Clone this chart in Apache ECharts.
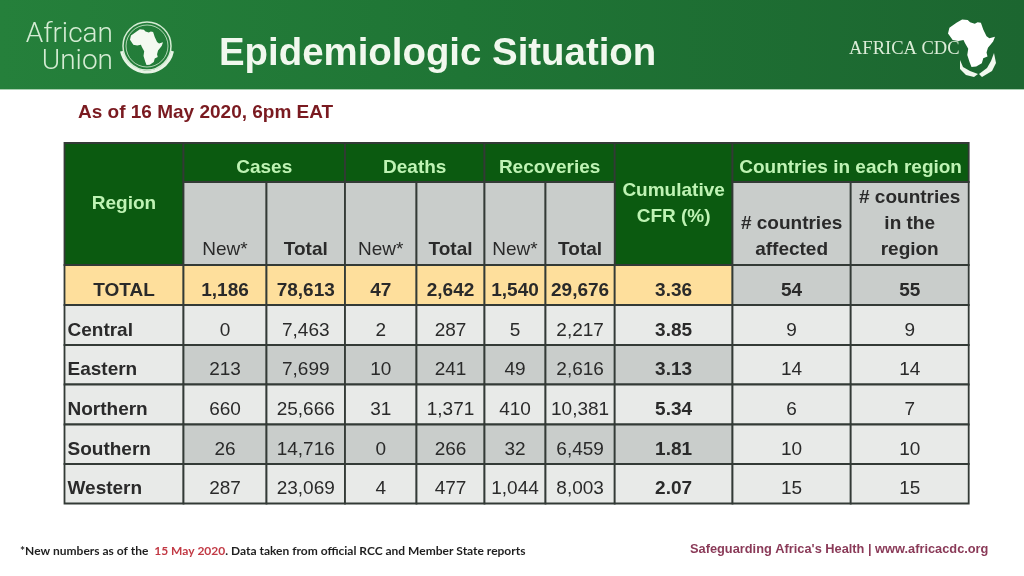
<!DOCTYPE html>
<html>
<head>
<meta charset="utf-8">
<style>html,body{margin:0;padding:0;background:#fff}#chart{width:1024px;height:576px}</style>
<script src="https://cdn.jsdelivr.net/npm/echarts@6/dist/echarts.min.js"></script>
</head>
<body>
<div id="chart"></div>
<script>
// table values
const regions = ['TOTAL', 'Central', 'Eastern', 'Northern', 'Southern', 'Western'];
const casesNew = [1186, 0, 213, 660, 26, 287];
const casesTotal = [78613, 7463, 7699, 25666, 14716, 23069];
const deathsNew = [47, 2, 10, 31, 0, 4];
const deathsTotal = [2642, 287, 241, 1371, 266, 477];
const recoveriesNew = [1540, 5, 49, 410, 32, 1044];
const recoveriesTotal = [29676, 2217, 2616, 10381, 6459, 8003];
const cfr = [3.36, 3.85, 3.13, 5.34, 1.81, 2.07];
const countriesAffected = [54, 9, 14, 6, 10, 15];
const countriesInRegion = [55, 9, 14, 7, 10, 15];

// grid lines, in axis units
const colEdges = [64.5, 183.5, 266.5, 345, 416.5, 484.5, 545.5, 614.7, 732.5, 850.7, 968.7];
const rowEdges = [143, 182, 265, 305, 345, 384.5, 424.5, 464, 503.5];

const FONT = '"Liberation Sans", Arial, sans-serif';
const GREEN = '#0b5a10';
const GREEN_TEXT = '#bff3b4';
const GRAY = '#c9cdcb';
const LIGHT = '#e8eae8';
const YELLOW = '#fedf9c';
const INK = '#2a2a2a';
const fmt = (v) => v.toLocaleString('en-US');

const cells = [];
function addCell(c0, c1, r0, r1, fill, lines, opt = {}) {
  cells.push({ value: [c0, c1, r0, r1], fill, lines, ...opt });
}

// header
addCell(0, 1, 0, 2, GREEN, ['Region'], { color: GREEN_TEXT, bold: true, cy: [204] });
addCell(1, 3, 0, 1, GREEN, ['Cases'], { color: GREEN_TEXT, bold: true, cy: [168] });
addCell(3, 5, 0, 1, GREEN, ['Deaths'], { color: GREEN_TEXT, bold: true, cy: [168] });
addCell(5, 7, 0, 1, GREEN, ['Recoveries'], { color: GREEN_TEXT, bold: true, cy: [168] });
addCell(7, 8, 0, 2, GREEN, ['Cumulative', 'CFR (%)'], { color: GREEN_TEXT, bold: true, cy: [191, 217] });
addCell(8, 10, 0, 1, GREEN, ['Countries in each region'], { color: GREEN_TEXT, bold: true, cy: [168] });
for (let c = 1; c < 7; c++) {
  const isTotal = c % 2 === 0;
  addCell(c, c + 1, 1, 2, GRAY, [isTotal ? 'Total' : 'New*'], { bold: isTotal, cy: [250] });
}
addCell(8, 9, 1, 2, GRAY, ['# countries', 'affected'], { bold: true, cy: [224, 250] });
addCell(9, 10, 1, 2, GRAY, ['# countries', 'in the', 'region'], { bold: true, cy: [198, 224, 250] });

// body
const numberCols = [casesNew, casesTotal, deathsNew, deathsTotal, recoveriesNew, recoveriesTotal];
regions.forEach((name, i) => {
  const r = i + 2;
  const isTotal = i === 0;
  const band = isTotal ? YELLOW : i % 2 === 0 ? GRAY : LIGHT;
  addCell(0, 1, r, r + 1, isTotal ? YELLOW : LIGHT, [name], { bold: true, left: !isTotal });
  numberCols.forEach((col, c) => {
    addCell(c + 1, c + 2, r, r + 1, band, [fmt(col[i])], { bold: isTotal });
  });
  addCell(7, 8, r, r + 1, band, [cfr[i].toFixed(2)], { bold: true });
  addCell(8, 9, r, r + 1, isTotal ? GRAY : LIGHT, [String(countriesAffected[i])], { bold: isTotal });
  addCell(9, 10, r, r + 1, isTotal ? GRAY : LIGHT, [String(countriesInRegion[i])], { bold: isTotal });
});

function renderCell(params, api) {
  const d = cells[params.dataIndex];
  const [c0, c1, r0, r1] = d.value;
  const a = api.coord([colEdges[c0], rowEdges[r0]]);
  const b = api.coord([colEdges[c1], rowEdges[r1]]);
  const children = [{
    type: 'rect',
    shape: { x: a[0], y: a[1], width: b[0] - a[0], height: b[1] - a[1] },
    style: { fill: d.fill, stroke: '#333a36', lineWidth: 1.8 },
  }];
  d.lines.forEach((line, i) => {
    const cy = d.cy ? api.coord([0, d.cy[i]])[1] : (a[1] + b[1]) / 2 + 5.5;
    children.push({
      type: 'text',
      style: {
        x: d.left ? a[0] + 3 : (a[0] + b[0]) / 2,
        y: cy,
        text: line,
        align: d.left ? 'left' : 'center',
        verticalAlign: 'middle',
        fill: d.color || INK,
        fontFamily: FONT,
        fontSize: 19,
        fontWeight: d.bold ? 'bold' : 'normal',
      },
      z2: 5,
    });
  });
  return { type: 'group', children };
}

// rough outline of the continent, 0..1 box
const africaOutline = [
  [0.18, 0.08], [0.30, 0.01], [0.42, 0.02], [0.47, 0.07], [0.57, 0.10], [0.63, 0.07], [0.70, 0.08],
  [0.75, 0.22], [0.82, 0.36], [0.88, 0.40], [1.0, 0.37], [0.96, 0.47], [0.85, 0.60], [0.82, 0.70],
  [0.84, 0.78], [0.75, 0.82], [0.72, 0.92], [0.60, 0.99], [0.50, 1.0], [0.46, 0.90], [0.41, 0.75],
  [0.43, 0.62], [0.36, 0.50], [0.33, 0.44], [0.22, 0.46], [0.10, 0.44], [0.0, 0.30], [0.03, 0.18],
];
const africaAt = (x, y, w, h) => africaOutline.map((p) => [x + p[0] * w, y + p[1] * h]);

const chart = echarts.init(document.getElementById('chart'), null, { renderer: 'canvas' });
chart.setOption({
  animation: false,
  backgroundColor: '#ffffff',
  grid: { left: 0, right: 0, top: 0, bottom: 0 },
  xAxis: { type: 'value', min: 0, max: 1024, show: false },
  yAxis: { type: 'value', min: 0, max: 576, inverse: true, show: false },
  title: [
    {
      text: 'Epidemiologic Situation',
      left: 219,
      top: 35,
      padding: 0,
      textStyle: { fontFamily: FONT, fontWeight: 'bold', fontSize: 38.4, color: '#f1f8ee' },
    },
    {
      text: 'As of 16 May 2020, 6pm EAT',
      left: 78,
      top: 103,
      padding: 0,
      textStyle: { fontFamily: FONT, fontWeight: 'bold', fontSize: 19, color: '#7a1a20' },
    },
  ],
  graphic: [
    {
      type: 'rect',
      z: -1,
      shape: { x: 0, y: 0, width: 1024, height: 89 },
      style: {
        fill: new echarts.graphic.LinearGradient(0, 0, 1, 0, [
          { offset: 0, color: '#25803b' },
          { offset: 0.45, color: '#1f7535' },
          { offset: 1, color: '#1c6630' },
        ]),
      },
    },
    { type: 'rect', z: -1, shape: { x: 0, y: 89, width: 1024, height: 1 }, style: { fill: '#a9cfb0' } },

    // African Union logo
    { type: 'text', style: { x: 113, y: 35, text: 'African', align: 'right', verticalAlign: 'middle', fill: '#d5ecd4', fontFamily: 'Roboto, sans-serif', fontWeight: 300, fontSize: 28 } },
    { type: 'text', style: { x: 113, y: 62, text: 'Union', align: 'right', verticalAlign: 'middle', fill: '#d5ecd4', fontFamily: 'Roboto, sans-serif', fontWeight: 300, fontSize: 28 } },
    { type: 'circle', shape: { cx: 147, cy: 46, r: 24 }, style: { fill: 'none', stroke: '#d5ecd4', lineWidth: 1.5 } },
    { type: 'circle', shape: { cx: 147, cy: 46, r: 21 }, style: { fill: 'none', stroke: '#d5ecd4', lineWidth: 0.8 } },
    { type: 'arc', shape: { cx: 147, cy: 46, r: 26, startAngle: 0.2, endAngle: 2.94 }, style: { fill: 'none', stroke: '#e8f4e6', lineWidth: 3 } },
    { type: 'polygon', shape: { points: africaAt(130, 29, 33, 36) }, style: { fill: '#f4f9f1' } },

    // Africa CDC logo
    { type: 'text', style: { x: 849, y: 49, text: 'AFRICA CDC', verticalAlign: 'middle', fill: '#dcedd8', fontFamily: '"Liberation Serif", serif', fontSize: 18.5 } },
    { type: 'polygon', shape: { points: africaAt(948, 19, 47, 48) }, style: { fill: '#ffffff' } },
    { type: 'polygon', shape: { points: [[960, 60], [963, 67], [970, 71], [978, 74], [974, 77], [966, 75], [960, 69]] }, style: { fill: '#f2f8ef' } },
    { type: 'polygon', shape: { points: [[994, 53], [996, 63], [992, 71], [982, 77], [979, 74], [987, 68], [991, 61]] }, style: { fill: '#f2f8ef' } },

    // footer
    {
      type: 'text',
      style: {
        x: 20,
        y: 551,
        verticalAlign: 'middle',
        text: '{k|*New numbers as of the  }{r|15 May 2020}{k|. Data taken from official RCC and Member State reports}',
        rich: {
          k: { fill: '#1f1f1f', fontFamily: 'Lato, sans-serif', fontWeight: 'bold', fontSize: 12 },
          r: { fill: '#c23a45', fontFamily: 'Lato, sans-serif', fontWeight: 'bold', fontSize: 12 },
        },
      },
    },
    { type: 'text', style: { x: 690, y: 549, text: "Safeguarding Africa's Health | www.africacdc.org", verticalAlign: 'middle', fill: '#8a3a58', fontFamily: FONT, fontWeight: 'bold', fontSize: 12.8 } },
  ],
  series: [
    {
      type: 'custom',
      coordinateSystem: 'cartesian2d',
      clip: false,
      silent: true,
      renderItem: renderCell,
      data: cells,
    },
  ],
});
</script>
</body>
</html>
